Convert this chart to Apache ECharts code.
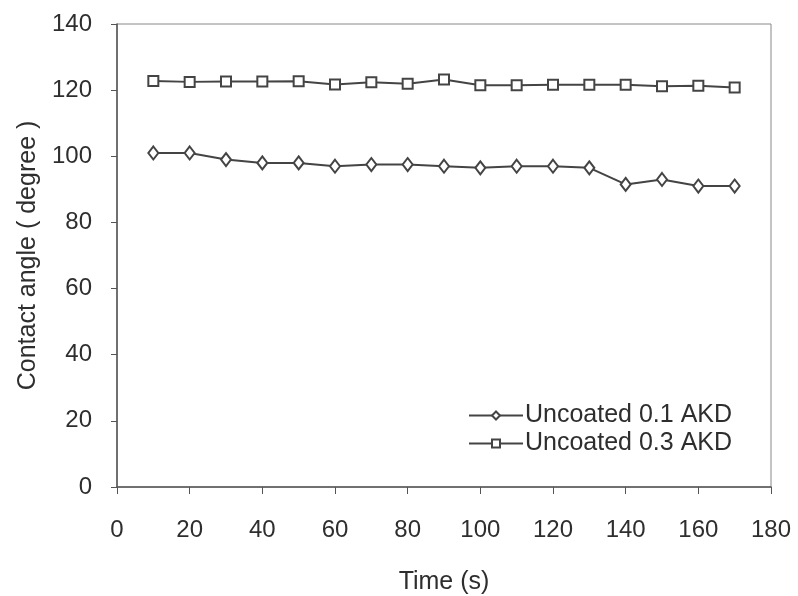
<!DOCTYPE html>
<html>
<head>
<meta charset="utf-8">
<script src="https://cdn.jsdelivr.net/npm/echarts@6/dist/echarts.min.js"></script>
<style>
  html, body { margin: 0; padding: 0; background: #fff; }
  #chart { width: 798px; height: 596px; }
</style>
</head>
<body>
<div id="chart"></div>
<script>
const times = [10, 20, 30, 40, 50, 60, 70, 80, 90, 100, 110, 120, 130, 140, 150, 160, 170];
const akd01 = [101, 101, 99, 98, 98, 97, 97.5, 97.5, 97, 96.5, 97, 97, 96.5, 91.5, 93, 91, 91];
const akd03 = [122.8, 122.5, 122.6, 122.6, 122.7, 121.7, 122.4, 121.9, 123.2, 121.5, 121.5, 121.6, 121.6, 121.6, 121.2, 121.3, 120.8];

const font = "'Liberation Sans', Arial, sans-serif";
const ink = "#2e2e2e";
const lineColor = "#444";

const chart = echarts.init(document.getElementById("chart"), null, { renderer: "canvas" });

const mkSeries = (name, values, symbol, size) => ({
  name,
  type: "line",
  data: times.map((t, i) => [t, values[i]]),
  symbol,
  symbolSize: size,
  showAllSymbol: true,
  lineStyle: { color: lineColor, width: 2 },
  itemStyle: { color: "#fff", borderColor: lineColor, borderWidth: 2 },
  animation: false,
});

chart.setOption({
  backgroundColor: "#fff",
  grid: {
    left: 117,
    right: 27,
    top: 24,
    bottom: 109,
    outerBoundsMode: "none",
    show: true,
    borderColor: "#888",
    borderWidth: 1,
  },
  legend: {
    left: 463,
    top: 398,
    orient: "vertical",
    itemGap: 3,
    itemWidth: 54,
    itemHeight: 10,
    textStyle: { fontFamily: font, fontSize: 25, color: ink, padding: [0, 0, 0, -3] },
    data: ["Uncoated 0.1 AKD", "Uncoated 0.3 AKD"],
  },
  xAxis: {
    type: "value",
    min: 0,
    max: 180,
    interval: 20,
    name: "Time (s)",
    nameLocation: "middle",
    nameGap: 83,
    nameTextStyle: { fontFamily: font, fontSize: 25, color: ink },
    axisLine: { show: true, lineStyle: { color: "#555", width: 1.5 } },
    axisTick: { show: true, length: 7, lineStyle: { color: "#555" } },
    axisLabel: { fontFamily: font, fontSize: 24, color: ink, margin: 31 },
    splitLine: { show: false },
  },
  yAxis: {
    type: "value",
    min: 0,
    max: 140,
    interval: 20,
    name: "Contact angle ( degree )",
    nameLocation: "middle",
    nameGap: 76,
    nameTextStyle: { fontFamily: font, fontSize: 25, color: ink },
    axisLine: { show: true, lineStyle: { color: "#555", width: 1.5 } },
    axisTick: { show: true, length: 6, lineStyle: { color: "#555" } },
    axisLabel: { fontFamily: font, fontSize: 24, color: ink, margin: 25 },
    splitLine: { show: false },
  },
  series: [
    mkSeries("Uncoated 0.1 AKD", akd01, "diamond", [10, 13]),
    mkSeries("Uncoated 0.3 AKD", akd03, "rect", 10),
  ],
});
</script>
</body>
</html>
